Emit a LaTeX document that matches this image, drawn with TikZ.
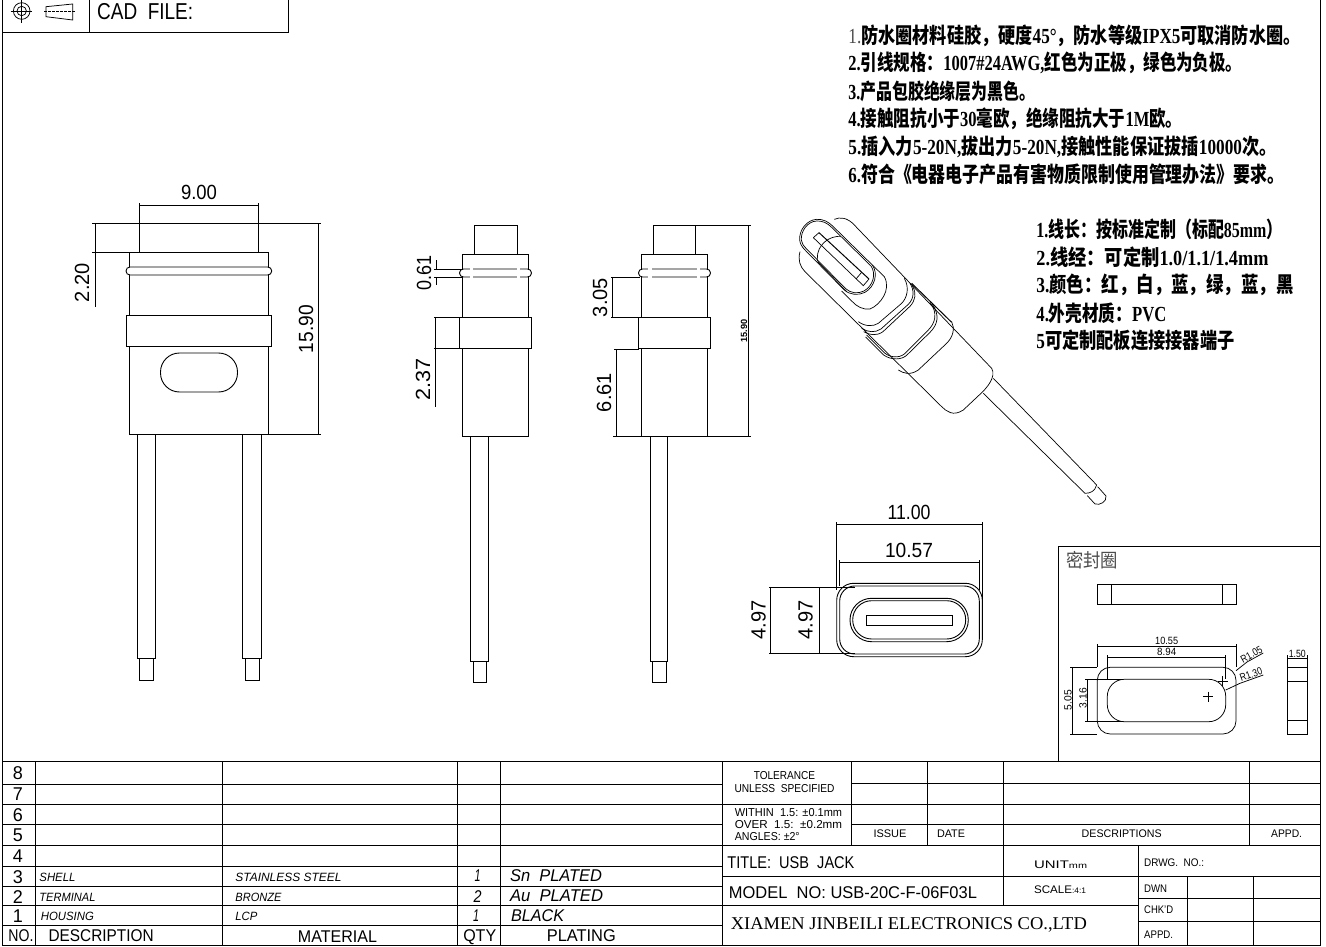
\documentclass[tikz,border=0pt]{standalone}
\usepackage{fontspec}
\usepackage{graphicx}
\setmainfont{Liberation Sans}
\newfontfamily\cn{Noto Sans CJK SC}
\newfontfamily\serifen{Liberation Serif}
\newcommand{\tw}[2]{\resizebox{#1pt}{\height}{#2}}
\newcommand{\fs}[1]{\fontsize{#1}{#1}\selectfont}
\newcommand{\la}[1]{{\serifen\bfseries #1}}
\tikzset{
  ln/.style={line width=0.9pt,black},
  thin line/.style={line width=0.75pt,black},
  dimtext/.style={inner sep=0pt,font=\fs{20.5}},
  dimv/.style={inner sep=0pt,font=\fs{20.5},rotate=90},
  west text/.style={inner sep=0pt,anchor=west},
  note/.style={inner sep=0pt,anchor=west,font=\cn\bfseries\fs{21.5}},
  iso/.style={line width=0.7pt,black},
  seal dim/.style={inner sep=0pt,font=\fs{10.5}},
}
\begin{document}
\begin{tikzpicture}[x=1pt,y=-1pt,ln]
\useasboundingbox (0,0) rectangle (1326,947);
\fill[white] (0,0) rectangle (1326,947);
% frame
\draw (2,0) -- (2,945.7) -- (1320,945.7) -- (1320,0);
% top-left block
\draw (2,32.7) -- (288.3,32.7) -- (288.3,0);
\draw (89.3,0) -- (89.3,32.7);
\draw[thin line] (21.7,11) circle (8.3) (21.7,11) circle (4.7);
\draw[thin line] (10.7,11) -- (32.3,11) (21.7,0) -- (21.7,22.7);
\draw[thin line] (46,6.7) -- (72.7,4) -- (72.7,20) -- (46,16.7) -- cycle;
\draw[thin line,dashed,dash pattern=on 3pt off 1pt] (44.3,11.3) -- (76,11.3);
\node[west text,font=\fs{23}] at (96.7,12) {\tw{96}{CAD\ \ FILE:}};
% notes
\node[note] at (848,36) {\tw{452}{{\mdseries\color{black!70}\serifen 1.}防水圈材料硅胶，硬度\la{45°}，防水等级\la{IPX5}可取消防水圈。}};
\node[note] at (848,63) {\tw{394}{\la{2.}引线规格：\la{1007\#24AWG,}红色为正极，绿色为负极。}};
\node[note] at (848,91) {\tw{187}{\la{3.}产品包胶绝缘层为黑色。}};
\node[note] at (848,119) {\tw{334}{\la{4.}接触阻抗小于\la{30}毫欧，绝缘阻抗大于\la{1M}欧。}};
\node[note] at (848,147) {\tw{428}{\la{5.}插入力\la{5-20N,}拔出力\la{5-20N,}接触性能保证拔插\la{10000}次。}};
\node[note] at (848,174) {\tw{436}{\la{6.}符合《电器电子产品有害物质限制使用管理办法》要求。}};
\node[note] at (1036,229) {\tw{246}{\la{1.}线长：按标准定制（标配\la{85mm}）}};
\node[note] at (1036,257) {\tw{232}{\la{2.}线经：可定制\la{1.0/1.1/1.4mm}}};
\node[note] at (1036,285) {\tw{257}{\la{3.}颜色：红，白，蓝，绿，蓝，黑}};
\node[note] at (1036,313) {\tw{130}{\la{4.}外壳材质：\la{PVC}}};
\node[note] at (1036,340) {\tw{198}{\la{5}可定制配板连接接器端子}};
% ---------- view 1
\draw (139.5,252.7) -- (139.5,223) -- (258.5,223) -- (258.5,252.7);
\draw (129,252.7) rectangle (268.7,434.7);
\draw[fill=white,rounded corners=3.9pt] (126,267) rectangle (271.7,275);
\draw[fill=white] (126,315.7) rectangle (271.5,346.7);
\draw[rounded corners=19pt] (160.5,353) rectangle (237.5,392);
\draw (137.3,434.7) -- (137.3,658) -- (155.3,658) -- (155.3,434.7);
\draw (139.5,658) -- (139.5,680) -- (153.2,680) -- (153.2,658);
\draw (242.7,434.7) -- (242.7,658) -- (261,658) -- (261,434.7);
\draw (245.6,658) -- (245.6,680) -- (259,680) -- (259,658);
\draw[thin line] (139.5,203) -- (139.5,223) (258.5,203) -- (258.5,223);
\draw[thin line] (139.5,205) -- (258.5,205);
\node[dimtext] at (199,192) {\tw{36}{9.00}};
\draw[thin line] (92,223) -- (139.5,223) (258.5,223) -- (321,223);
\draw[thin line] (92,252.7) -- (139.5,252.7);
\draw[thin line] (95,223) -- (95,307);
\node[dimv] at (82,282.5) {\tw{39}{2.20}};
\draw[thin line] (268.7,434.7) -- (321,434.7);
\draw[thin line] (318.5,223) -- (318.5,434.7);
\node[dimv] at (306,329) {\tw{48}{15.90}};
% ---------- view 2
\draw (474,254.7) -- (474,225.5) -- (517,225.5) -- (517,254.7);
\draw (462.7,254.7) rectangle (528.5,436.7);
\draw[fill=white,rounded corners=3.9pt] (459.5,269) rectangle (531.5,277);
\draw[white,line width=1.4pt] (470,269) -- (473,269) (470,277) -- (473,277) (517,269) -- (519.5,269) (517,277) -- (519.5,277);
\draw[fill=white] (459.3,317.7) rectangle (531.5,348.7);
\draw (470,436.7) -- (470,661) -- (488.3,661) -- (488.3,436.7);
\draw (473,661) -- (473,682) -- (486.6,682) -- (486.6,661);
\draw[thin line] (434,269) -- (462.7,269) (434,277) -- (462.7,277);
\draw[thin line] (436,260) -- (436,269) (436,277) -- (436,285);
\node[dimv] at (424,272.5) {\tw{35}{0.61}};
\draw[thin line] (434,317.7) -- (459.3,317.7) (434,348.7) -- (459.3,348.7);
\draw[thin line] (435,317.7) -- (435,406.7);
\node[dimv] at (423,379) {\tw{42}{2.37}};
% ---------- view 3
\draw (653.3,254.7) -- (653.3,225.5) -- (695.5,225.5) -- (695.5,254.7);
\draw (641.5,254.7) rectangle (707.5,436.7);
\draw[fill=white,rounded corners=3.9pt] (638.5,269) rectangle (710.5,277);
\draw[white,line width=1.4pt] (648,269) -- (651.5,269) (648,277) -- (651.5,277) (697,269) -- (700,269) (697,277) -- (700,277);
\draw[fill=white] (638.5,317.7) rectangle (710.5,348.7);
\draw (650,436.7) -- (650,661) -- (667.5,661) -- (667.5,436.7);
\draw (652,661) -- (652,682) -- (666,682) -- (666,661);
\draw[thin line] (695.5,225.5) -- (751,225.5);
\draw[thin line] (613,436.7) -- (641.5,436.7) (707.5,436.7) -- (751,436.7);
\draw[thin line] (748,225.5) -- (748,436.7);
\node[inner sep=0pt,rotate=90,font=\bfseries\fs{9}] at (744,331) {\tw{23}{15.90}};
\draw[thin line] (611,277) -- (640,277) (611,317.7) -- (638.5,317.7);
\draw[thin line] (612.5,277) -- (612.5,317.7);
\node[dimv] at (600,297.5) {\tw{39}{3.05}};
\draw[thin line] (614,349) -- (638.5,349);
\draw[thin line] (616,349) -- (616,436.7);
\node[dimv] at (604,392.5) {\tw{39}{6.61}};
% ---------- isometric view (traced in 3x coordinates)
\begin{scope}[shift={(795,215)},x=0.3333pt,y=-0.3333pt,iso]
% wire
\draw (595,490) -- (905,810) .. controls (900,830) and (885,835) .. (870,835) -- (565,535);
\draw (908,815) -- (933,843) .. controls (936,860) and (915,872) .. (900,867) -- (877,842);
% collar
\draw (178,30) -- (590,460) .. controls (605,485) and (575,520) .. (555,538) -- (505,585) .. controls (475,605) and (455,590) .. (440,575) -- (30,170);
\draw[line width=1pt] (350,205) -- (470,322);
% panels
\draw (470,320) .. controls (480,340) and (475,365) .. (455,385) -- (370,465) .. controls (345,482) and (325,475) .. (310,465);
\draw (405,262) .. controls (430,295) and (420,325) .. (400,345) -- (335,410) .. controls (320,430) and (290,430) .. (270,415) -- (215,360);
\draw (412,268) .. controls (435,300) and (428,330) .. (405,352) -- (338,418) .. controls (322,436) and (288,436) .. (266,420) -- (212,366);
\draw (118,13) .. controls (135,5) and (158,8) .. (178,30);
\draw (15,110) .. controls (8,135) and (15,155) .. (30,170);
\draw (328,190) .. controls (345,220) and (335,250) .. (320,265) -- (250,325) .. controls (235,335) and (210,335) .. (190,320);
\draw (345,205) .. controls (358,225) and (358,250) .. (340,268) -- (258,342) .. controls (240,354) and (218,352) .. (200,340);
\draw (352,212) .. controls (365,235) and (362,255) .. (345,274) -- (264,350) .. controls (245,364) and (222,360) .. (206,350);
\draw (232,150) -- (268,185) .. controls (290,225) and (255,270) .. (225,282) .. controls (205,285) and (185,275) .. (170,258) -- (140,228);
% front ring
\draw[fill=white] (14,75) .. controls (12,45) and (35,15) .. (65,13) .. controls (85,12) and (100,20) .. (115,35) -- (232,150) .. controls (250,175) and (240,215) .. (210,232) .. controls (190,242) and (165,240) .. (148,225) -- (30,105) .. controls (20,95) and (15,85) .. (14,75) -- cycle;
\draw (19,75) .. controls (17,48) and (38,19) .. (65,18) .. controls (83,17) and (97,24) .. (111,38) -- (228,153) .. controls (244,176) and (235,212) .. (207,228) .. controls (189,237) and (167,235) .. (152,221) -- (34,101) .. controls (25,92) and (20,84) .. (19,75) -- cycle;
% cavity
\draw (137,65) .. controls (105,60) and (65,90) .. (67,130) -- (67,135) .. controls (68,140) and (72,145) .. (78,150) -- (155,230);
% tongue
\draw (55,68) -- (72,53) (55,68) -- (205,212) -- (222,192);
\draw[line width=1pt] (72,53) -- (222,192);
\draw (183,192) -- (200,172);
\end{scope}
% ---------- connector face
\draw[rounded corners=17pt] (836.7,583.3) rectangle (982.3,656.7);
\draw[rounded corners=15pt] (839.7,586) rectangle (979.3,654);
\draw[rounded corners=21.6pt] (850,598.3) rectangle (968.3,641.7);
\draw[rounded corners=19pt] (852.7,600.7) rectangle (965.7,639);
\draw (866.7,615.3) rectangle (952,625);
\draw[thin line] (836.7,522) -- (836.7,590) (982.3,522) -- (982.3,610);
\draw[thin line] (836.7,524.3) -- (982.3,524.3);
\node[dimtext] at (909,512) {\tw{43}{11.00}};
\draw[thin line] (839.7,560) -- (839.7,586) (979.3,560) -- (979.3,590);
\draw[thin line] (839.7,562.7) -- (979.3,562.7);
\node[dimtext] at (909,550) {\tw{48}{10.57}};
\draw[thin line] (769,587.3) -- (855,587.3) (769,653) -- (855,653);
\draw[thin line] (770.7,587.3) -- (770.7,653) (819.3,587.3) -- (819.3,653);
\node[dimv] at (758.5,620) {\tw{39}{4.97}};
\node[dimv] at (805.5,620) {\tw{39}{4.97}};
% ---------- seal box
\draw (1058,762) -- (1058,546.7) -- (1320,546.7);
\node[inner sep=0pt,font=\cn\fs{19},text=black!70] at (1092,560) {\tw{52}{密封圈}};
\draw[thin line] (1097.3,584) rectangle (1236,604.3) (1111,584) -- (1111,604.3) (1222.7,584) -- (1222.7,604.3);
\draw[thin line,rounded corners=13pt] (1097.3,667.3) rectangle (1236,734);
\draw[thin line,rounded corners=17pt] (1107.3,679.3) rectangle (1225.7,721.7);
\draw[thin line] (1203.3,696.7) -- (1213.3,696.7) (1208.3,691.7) -- (1208.3,701.7);
\draw[thin line] (1217.7,681) -- (1227.7,681) (1222.7,676) -- (1222.7,686);
\draw[thin line] (1097.3,644) -- (1097.3,667.3) (1236,644) -- (1236,667.3);
\draw[thin line] (1097.3,646.7) -- (1236,646.7);
\node[seal dim] at (1166.7,641) {\tw{23}{10.55}};
\draw[thin line] (1107.3,655) -- (1107.3,679.3) (1225.7,655) -- (1225.7,679.3);
\draw[thin line] (1107.3,657.3) -- (1225.7,657.3);
\node[seal dim] at (1166.7,652) {\tw{19}{8.94}};
\draw[thin line] (1070,667.3) -- (1097.3,667.3) (1070,734) -- (1097.3,734);
\draw[thin line] (1072.7,667.3) -- (1072.7,734);
\node[seal dim,rotate=90] at (1068,700) {\tw{20}{5.05}};
\draw[thin line] (1085,679.3) -- (1123,679.3) (1085,721.7) -- (1123,721.7);
\draw[thin line] (1087.7,679.3) -- (1087.7,721.7);
\node[seal dim,rotate=90] at (1083,698) {\tw{20}{3.16}};
\draw[thin line] (1236,670.7) -- (1247,662) -- (1263.3,653);
\node[seal dim,rotate=29] at (1251.5,654.5) {\tw{23}{R1.05}};
\draw[thin line] (1225.7,690) -- (1240,683.3) -- (1263.3,675);
\node[seal dim,rotate=20] at (1251,674.5) {\tw{23}{R1.30}};
\draw[thin line] (1287.7,667.3) rectangle (1307.3,734) (1287.7,681) -- (1307.3,681) (1287.7,720.3) -- (1307.3,720.3);
\draw[thin line] (1287.7,655) -- (1287.7,667.3) (1307.3,655) -- (1307.3,667.3);
\draw[thin line] (1287.7,658.3) -- (1307.3,658.3);
\node[seal dim] at (1297.3,654) {\tw{17}{1.50}};
% ---------- parts table
\foreach \yy in {761.7,784,804,824,845.7,866,886,905.7,925} \draw (2,\yy) -- (722.7,\yy);
\foreach \xx in {35.8,222.7,457.8,500.5} \draw (\xx,761.7) -- (\xx,945.7);
\foreach \yy/\nn in {772.7/8,794/7,815/6,835/5,856/4,876.7/3,896.7/2,916/1}
  \node[inner sep=0pt,font=\fs{18.5}] at (18,\yy) {\tw{10}{\nn}};
\node[west text,font=\fs{17}] at (8,935.7) {\tw{25}{NO.}};
\node[west text,font=\fs{17}] at (48.2,935.7) {\tw{105}{DESCRIPTION}};
\node[west text,font=\fs{17}] at (297.5,936.7) {\tw{79}{MATERIAL}};
\node[west text,font=\fs{17}] at (462.8,936.7) {\tw{33}{QTY}};
\node[west text,font=\fs{17}] at (546.4,935.7) {\tw{69}{PLATING}};
\node[west text,font=\itshape\fs{12}] at (39,877.7) {\tw{36}{SHELL}};
\node[west text,font=\itshape\fs{12}] at (235,877.7) {\tw{106}{STAINLESS STEEL}};
\node[inner sep=0pt,font=\itshape\fs{17}] at (477.5,876) {\tw{6}{1}};
\node[west text,font=\itshape\fs{17}] at (509.6,875.7) {\tw{92}{Sn\ \ PLATED}};
\node[west text,font=\itshape\fs{12}] at (39,897.7) {\tw{56}{TERMINAL}};
\node[west text,font=\itshape\fs{12}] at (235,897.7) {\tw{46}{BRONZE}};
\node[inner sep=0pt,font=\itshape\fs{17}] at (477.5,897) {\tw{8}{2}};
\node[west text,font=\itshape\fs{17}] at (509.6,895.7) {\tw{93}{Au\ \ PLATED}};
\node[west text,font=\itshape\fs{12}] at (40.4,916.7) {\tw{53}{HOUSING}};
\node[west text,font=\itshape\fs{12}] at (235,916.7) {\tw{22}{LCP}};
\node[inner sep=0pt,font=\itshape\fs{17}] at (476,916) {\tw{6}{1}};
\node[west text,font=\itshape\fs{17}] at (510.6,915.7) {\tw{53}{BLACK}};
% ---------- title block
\draw (722.7,761.7) -- (722.7,945.7);
\draw (722.7,761.7) -- (1320,761.7);
\draw (851.3,783.3) -- (1320,783.3);
\draw (722.7,804.3) -- (1320,804.3);
\draw (851.3,824.3) -- (1320,824.3);
\draw (722.7,845.7) -- (1320,845.7);
\draw (722.7,876) -- (1320,876);
\draw (722.7,905.7) -- (1138,905.7);
\draw (1138,898.3) -- (1320,898.3) (1138,921.7) -- (1320,921.7);
\draw (851.3,761.7) -- (851.3,845.7) (927.4,761.7) -- (927.4,845.7) (1003.9,761.7) -- (1003.9,905.7) (1249,761.7) -- (1249,845.7);
\draw (1138,845.7) -- (1138,945.7);
\draw (1187,876) -- (1187,945.7) (1253,876) -- (1253,945.7);
\node[inner sep=0pt,font=\fs{11.5}] at (784.5,776) {\tw{61.4}{TOLERANCE}};
\node[inner sep=0pt,font=\fs{11.5}] at (784.5,788.3) {\tw{100}{UNLESS\ \ SPECIFIED}};
\node[west text,font=\fs{11.5}] at (734.3,812.3) {\tw{107.4}{WITHIN\ \ 1.5: ±0.1mm}};
\node[west text,font=\fs{11.5}] at (734.3,825) {\tw{107.4}{OVER\ \ 1.5:\ \ ±0.2mm}};
\node[west text,font=\fs{11.5}] at (734.3,837) {\tw{65}{ANGLES: ±2°}};
\node[inner sep=0pt,font=\fs{11}] at (890,834) {\tw{33}{ISSUE}};
\node[inner sep=0pt,font=\fs{11}] at (951,834) {\tw{28}{DATE}};
\node[inner sep=0pt,font=\fs{11}] at (1121.7,834) {\tw{80}{DESCRIPTIONS}};
\node[inner sep=0pt,font=\fs{11}] at (1286.6,834) {\tw{31}{APPD.}};
\node[west text,font=\fs{17}] at (727,862.3) {\tw{127}{TITLE:\ \ USB\ \ JACK}};
\node[west text,font=\fs{17}] at (728.5,892.3) {\tw{248}{MODEL\ \ NO: USB-20C-F-06F03L}};
\node[west text,font=\serifen\fs{18}] at (730.4,925) {\tw{356}{XIAMEN JINBEILI ELECTRONICS CO.,LTD}};
\node[west text,font=\fs{11}] at (1033.6,864.3) {\tw{53}{UNIT{\fs{8}mm}}};
\node[west text,font=\fs{11}] at (1033.6,889.3) {\tw{52}{SCALE{\fs{8}:4:1}}};
\node[west text,font=\fs{11}] at (1143.7,862.3) {\tw{60}{DRWG.\ \ NO.:}};
\node[west text,font=\fs{11}] at (1143.7,888.3) {\tw{23}{DWN}};
\node[west text,font=\fs{11}] at (1143.7,910) {\tw{29}{CHK'D}};
\node[west text,font=\fs{11}] at (1143.7,935) {\tw{29}{APPD.}};
\end{tikzpicture}
\end{document}
